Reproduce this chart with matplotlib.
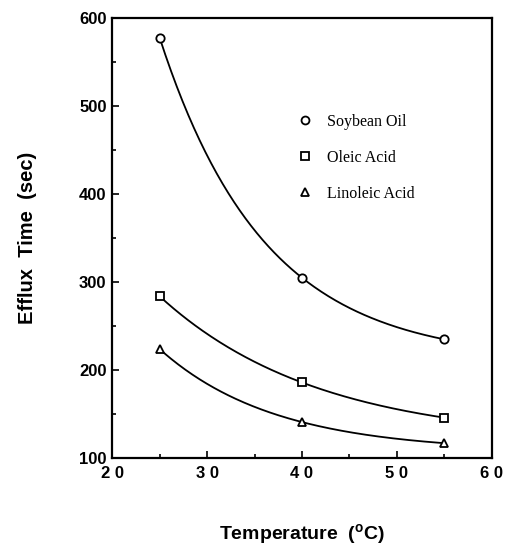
import numpy as np
import matplotlib
matplotlib.use('Agg')
import matplotlib.pyplot as plt
from matplotlib.ticker import MultipleLocator

temps = [25, 40, 55]
soybean = [578, 305, 235]
oleic = [284, 186, 146]
linoleic = [224, 141, 117]
series_names = ['Soybean Oil', 'Oleic Acid', 'Linoleic Acid']
x_ticks = [20, 30, 40, 50, 60]
x_tick_labels = ['2 0', '3 0', '4 0', '5 0', '6 0']
y_ticks = [100, 200, 300, 400, 500, 600]


def smooth_curve(xs, ys, n=200):
    # shifted exponential y = c + b*exp(-k x) through three equally spaced points
    x1, x2, x3 = xs
    y1, y2, y3 = ys
    r = (y2 - y3) / (y1 - y2)
    k = -np.log(r) / (x2 - x1)
    b = (y1 - y2) / (np.exp(-k * x1) - np.exp(-k * x2))
    c = y1 - b * np.exp(-k * x1)
    xx = np.linspace(x1, x3, n)
    return xx, c + b * np.exp(-k * xx)


fig = plt.figure(figsize=(5.05, 5.5), dpi=100, facecolor='white')
ax = fig.add_axes([0.222, 0.167, 0.752, 0.800])

markers = ['o', 's', '^']
for ys, m, name in zip([soybean, oleic, linoleic], markers, series_names):
    xx, yy = smooth_curve(temps, ys)
    ax.plot(xx, yy, color='black', linewidth=1.3, zorder=2)
    ax.plot(temps, ys, linestyle='none', marker=m, markersize=6,
            markerfacecolor='white', markeredgecolor='black',
            markeredgewidth=1.3, zorder=3, label=name)

ax.set_xlim(20, 60)
ax.set_ylim(100, 600)
ax.set_xticks(x_ticks)
ax.set_xticklabels(x_tick_labels)
ax.set_yticks(y_ticks)
ax.xaxis.set_minor_locator(MultipleLocator(5))
ax.yaxis.set_minor_locator(MultipleLocator(50))
ax.tick_params(which='both', direction='in', width=1.2)
ax.tick_params(which='major', length=5)
ax.tick_params(which='minor', length=3)
ax.tick_params(axis='x', pad=6)
ax.tick_params(axis='y', pad=4)
for lab in ax.get_xticklabels() + ax.get_yticklabels():
    lab.set_fontfamily('Liberation Sans')
    lab.set_fontweight('bold')
    lab.set_fontsize(12)
for sp in ax.spines.values():
    sp.set_linewidth(1.6)

leg = ax.legend(loc='upper left', bbox_to_anchor=(0.487, 0.782), frameon=False,
                prop={'family': 'Liberation Serif', 'size': 11.5},
                handletextpad=0.85, labelspacing=1.25, handlelength=1.0,
                borderpad=0, borderaxespad=0, markerscale=0.95)

ax.set_xlabel('Temperature  ($\\mathregular{^o}$C)', fontfamily='Liberation Sans',
              fontweight='bold', fontsize=14, labelpad=29)
ax.set_ylabel('Efflux  Time  (sec)', fontfamily='Liberation Sans',
              fontweight='bold', fontsize=14.5, labelpad=30)

fig.savefig('out.png', dpi=100, facecolor='white')
